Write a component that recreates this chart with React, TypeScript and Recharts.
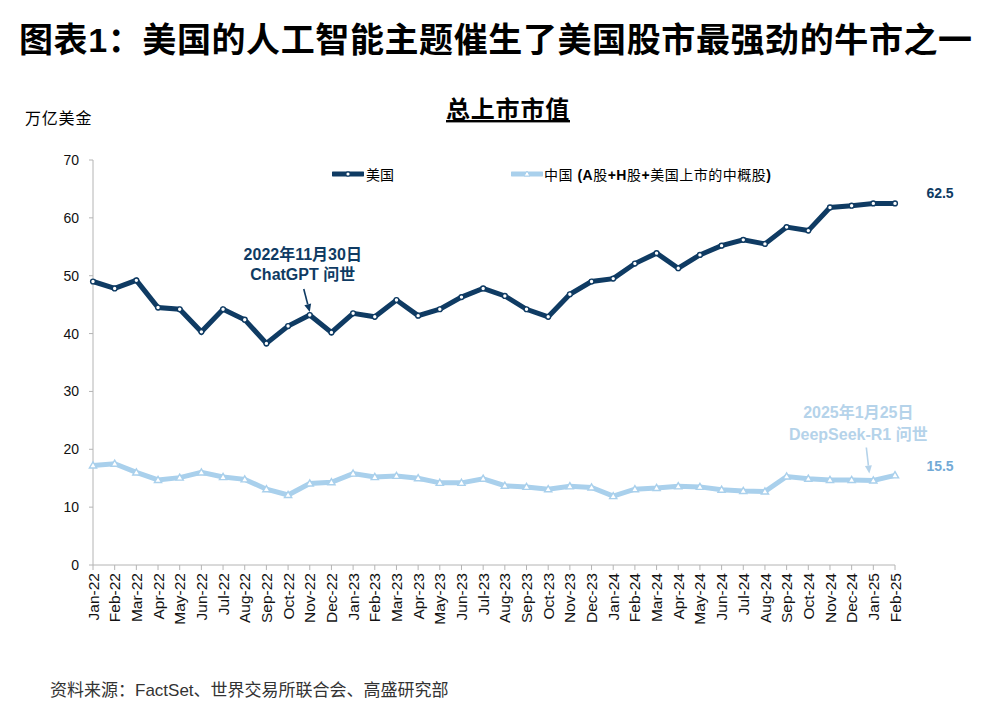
import React from "react";
import { LineChart, Line, XAxis, YAxis, ReferenceDot } from "recharts";

const months = [
  "Jan-22", "Feb-22", "Mar-22", "Apr-22", "May-22", "Jun-22", "Jul-22", "Aug-22", "Sep-22", "Oct-22", "Nov-22", "Dec-22",
  "Jan-23", "Feb-23", "Mar-23", "Apr-23", "May-23", "Jun-23", "Jul-23", "Aug-23", "Sep-23", "Oct-23", "Nov-23", "Dec-23",
  "Jan-24", "Feb-24", "Mar-24", "Apr-24", "May-24", "Jun-24", "Jul-24", "Aug-24", "Sep-24", "Oct-24", "Nov-24", "Dec-24",
  "Jan-25", "Feb-25",
];

// 万亿美金
const usCap = [
  49.0, 47.8, 49.2, 44.5, 44.2, 40.3, 44.2, 42.4, 38.3, 41.3, 43.2, 40.2,
  43.5, 42.9, 45.8, 43.1, 44.2, 46.3, 47.8, 46.5, 44.2, 42.9, 46.8, 49.0,
  49.5, 52.1, 53.9, 51.3, 53.6, 55.2, 56.2, 55.5, 58.4, 57.8, 61.8, 62.1,
  62.5, 62.5,
];

const chinaCap = [
  17.2, 17.5, 16.0, 14.7, 15.1, 16.0, 15.2, 14.8, 13.1, 12.1, 14.1, 14.3,
  15.8, 15.2, 15.4, 15.0, 14.2, 14.2, 14.9, 13.7, 13.5, 13.1, 13.6, 13.4,
  11.9, 13.1, 13.3, 13.6, 13.5, 13.0, 12.8, 12.7, 15.3, 14.9, 14.7, 14.7,
  14.6, 15.5,
];

const yTicks = [0, 10, 20, 30, 40, 50, 60, 70];

const US = "#0f3b63";
const CN = "#a9d0ec";
const CN_TEXT = "#b5d3ea";
const CN_VALUE = "#73aad6";
const AXIS = "#b4b4b4";
const FONT = "'Liberation Sans', Arial, 'Noto Sans CJK SC', sans-serif";

const data = months.map((m, i) => ({ month: m, us: usCap[i], cn: chinaCap[i] }));

function XTick({ x, y, payload }: any) {
  return (
    <text
      x={x}
      y={y}
      transform={`rotate(-90 ${x} ${y})`}
      textAnchor="end"
      dy="0.36em"
      fontSize={15.5}
      fill="#111"
      fontFamily={FONT}
    >
      {payload.value}
    </text>
  );
}

function UsDot({ cx, cy, index }: any) {
  return <circle key={`u${index}`} cx={cx} cy={cy} r={2.4} fill="#fff" stroke={US} strokeWidth={1.4} />;
}

function CnDot({ cx, cy, index }: any) {
  const s = 3.6;
  return (
    <path
      key={`c${index}`}
      d={`M${cx},${cy - s} L${cx + s},${cy + s * 0.7} L${cx - s},${cy + s * 0.7} Z`}
      fill="#fff"
      stroke={CN}
      strokeWidth={1.4}
    />
  );
}

function Arrow({ x1, y1, x2, y2, color }: any) {
  const a = Math.atan2(y2 - y1, x2 - x1);
  const L = 8;
  const W = 3.5;
  const bx = x2 - L * Math.cos(a);
  const by = y2 - L * Math.sin(a);
  const px = -Math.sin(a) * W;
  const py = Math.cos(a) * W;
  return (
    <g>
      <line x1={x1} y1={y1} x2={bx} y2={by} stroke={color} strokeWidth={1.6} />
      <path d={`M${x2},${y2} L${bx + px},${by + py} L${bx - px},${by - py} Z`} fill={color} />
    </g>
  );
}

function ChatGptNote({ cx, cy }: any) {
  return (
    <g fontFamily={FONT} fontWeight="bold" fontSize={16} fill={US} textAnchor="middle">
      <text x={cx - 7} y={cy - 55}>2022年11月30日</text>
      <text x={cx - 7} y={cy - 35}>ChatGPT 问世</text>
      <Arrow x1={cx - 6} y1={cy - 26} x2={cx} y2={cy - 3} color={US} />
    </g>
  );
}

function DeepSeekNote({ cx, cy }: any) {
  return (
    <g fontFamily={FONT} fontWeight="bold" fontSize={16} fill={CN_TEXT} textAnchor="middle">
      <text x={cx - 15} y={cy - 63}>2025年1月25日</text>
      <text x={cx - 15} y={cy - 41}>DeepSeek-R1 问世</text>
      <Arrow x1={cx - 7} y1={cy - 33} x2={cx - 4} y2={cy - 7} color={CN_TEXT} />
    </g>
  );
}

function EndValue({ cx, cy, value, color, dy }: any) {
  return (
    <text x={cx + 45} y={cy + dy} textAnchor="middle" fontFamily={FONT} fontWeight="bold" fontSize={14} fill={color}>
      {value.toFixed(1)}
    </text>
  );
}

function LegendIcon({ color, marker }: { color: string; marker: "circle" | "triangle" }) {
  return (
    <svg width={32} height={10} style={{ display: "block" }}>
      <line x1={1} y1={5} x2={31} y2={5} stroke={color} strokeWidth={5} strokeLinecap="round" />
      {marker === "circle" ? (
        <circle cx={16} cy={5} r={2.2} fill="#fff" stroke={color} strokeWidth={1.2} />
      ) : (
        <path d="M16,2 L19,7 L13,7 Z" fill="#fff" stroke={color} strokeWidth={1} />
      )}
    </svg>
  );
}

export default function App() {
  const last = months.length - 1;
  return (
    <div style={{ position: "absolute", left: 0, top: 0, width: 1001, height: 721, background: "#fff", fontFamily: FONT }}>
      <svg width={1001} height={721} style={{ position: "absolute", left: 0, top: 0 }}>
        <text x={19} y={52} fontSize={34} fontWeight="bold" fill="#000" fontFamily={FONT} letterSpacing={0.6}>
          图表1：美国的人工智能主题催生了美国股市最强劲的牛市之一
        </text>
        <text x={508} y={118} textAnchor="middle" fontSize={24} fontWeight="bold" fill="#000" fontFamily={FONT} letterSpacing={0.8} style={{ textDecoration: "underline" }}>
          总上市市值
        </text>
        <text x={25} y={124} fontSize={16} fill="#000" fontFamily={FONT} letterSpacing={0.8}>
          万亿美金
        </text>
        <text x={50} y={696} fontSize={17} fill="#333" fontFamily={FONT}>
          资料来源：FactSet、世界交易所联合会、高盛研究部
        </text>
      </svg>

      <div style={{ position: "absolute", left: 0, top: 0 }}>
        <LineChart width={1001} height={721} data={data} margin={{ top: 160, right: 106, bottom: 96, left: 53 }}>
          <XAxis
            dataKey="month"
            interval={0}
            height={60}
            tick={<XTick />}
            tickSize={5}
            tickMargin={3}
            axisLine={{ stroke: AXIS }}
            tickLine={{ stroke: AXIS }}
          />
          <YAxis
            domain={[0, 70]}
            ticks={yTicks}
            width={40}
            tickSize={4}
            tickMargin={10}
            axisLine={{ stroke: AXIS }}
            tickLine={{ stroke: AXIS }}
            tick={{ fontSize: 14, fill: "#111", fontFamily: FONT }}
          />
          <Line type="linear" dataKey="cn" stroke={CN} strokeWidth={5} dot={<CnDot />} isAnimationActive={false} />
          <Line type="linear" dataKey="us" stroke={US} strokeWidth={5} dot={<UsDot />} isAnimationActive={false} />
          <ReferenceDot x={months[10]} y={usCap[10]} shape={<ChatGptNote />} />
          <ReferenceDot x={months[36]} y={chinaCap[36]} shape={<DeepSeekNote />} />
          <ReferenceDot x={months[last]} y={usCap[last]} shape={<EndValue value={usCap[last]} color={US} dy={-5} />} />
          <ReferenceDot x={months[last]} y={chinaCap[last]} shape={<EndValue value={chinaCap[last]} color={CN_VALUE} dy={-4} />} />
        </LineChart>
      </div>

      <div style={{ position: "absolute", left: 332, top: 164, display: "flex", alignItems: "center", fontSize: 14, color: "#000" }}>
        <LegendIcon color={US} marker="circle" />
        <span style={{ marginLeft: 2 }}>美国</span>
      </div>
      <div style={{ position: "absolute", left: 511, top: 164, display: "flex", alignItems: "center", fontSize: 14, color: "#000" }}>
        <LegendIcon color={CN} marker="triangle" />
        <span style={{ marginLeft: 1, letterSpacing: 0.5 }}>
          中国 <b>(A</b>股<b>+H</b>股<b>+</b>美国上市的中概股<b>)</b>
        </span>
      </div>
    </div>
  );
}
